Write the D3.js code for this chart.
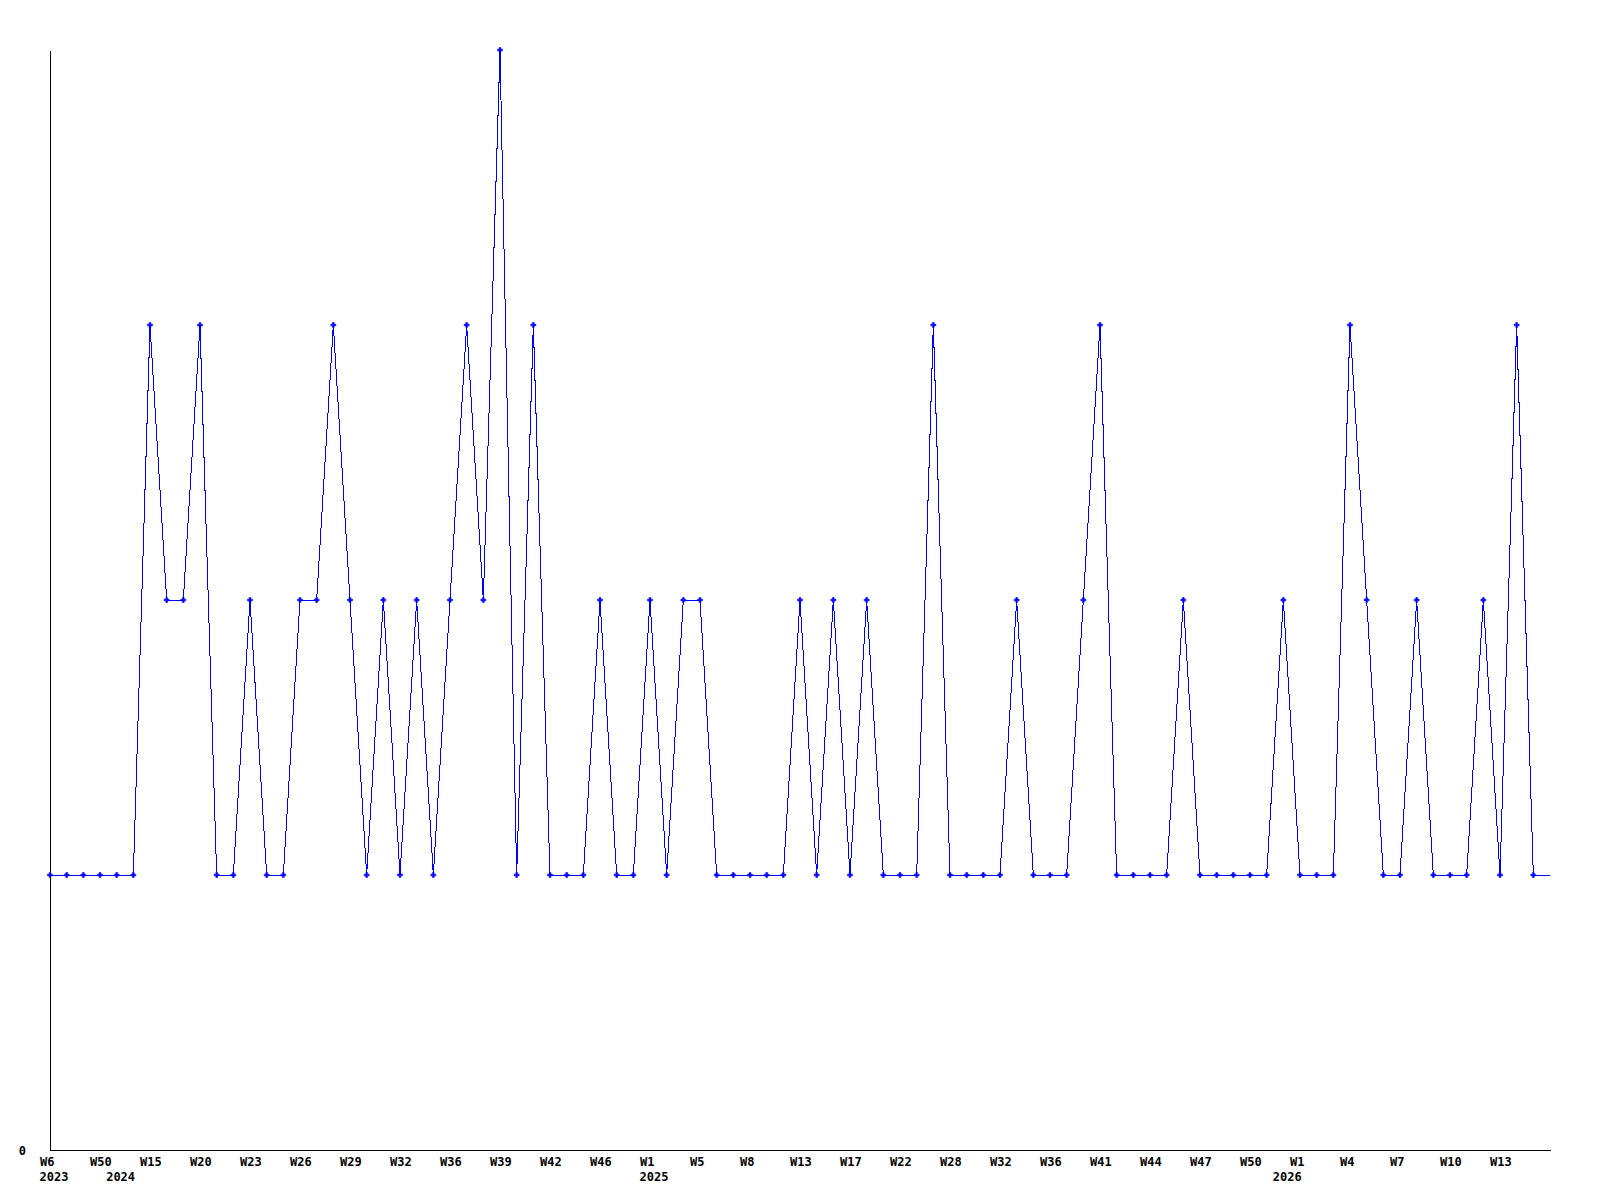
<!DOCTYPE html>
<html>
<head>
<meta charset="utf-8">
<script src="https://cdn.jsdelivr.net/npm/d3@7"></script>
<style>
  html, body { margin: 0; padding: 0; background: #fff; }
  svg { display: block; }
  text { font-family: "DejaVu Sans Mono", "Liberation Mono", monospace; font-weight: bold; font-size: 12px; fill: #000; }
</style>
</head>
<body>
<svg id="chart" width="1600" height="1200"></svg>
<script>
// Weekly values (last entry = current week, drawn as line continuation without marker)
const values = [
  1,1,1,1,1,1,3,2,2,3,
  1,1,2,1,1,2,2,3,2,1,
  2,1,2,1,2,3,2,4,1,3,
  1,1,1,2,1,1,2,1,2,2,
  1,1,1,1,1,2,1,2,1,2,
  1,1,1,3,1,1,1,1,2,1,
  1,1,2,3,1,1,1,1,2,1,
  1,1,1,1,2,1,1,1,3,2,
  1,1,2,1,1,1,2,1,3,1,
  1
];
const tickIndices = d3.range(0, 90, 3);
const tickLabels = ["W6","W50","W15","W20","W23","W26","W29","W32","W36","W39",
                    "W42","W46","W1","W5","W8","W13","W17","W22","W28","W32",
                    "W36","W41","W44","W47","W50","W1","W4","W7","W10","W13"];
const yearLabels = ["2023","2024","2025","2026"];
const yearIndices = [0, 4, 36, 74];
const yTicks = [0];

const svg = d3.select("#chart");
const mLeft = 50, mRight = 1550, mTop = 50, mBottom = 1150;

const x = d3.scaleLinear().domain([0, values.length - 1]).range([mLeft, mRight]);
const y = d3.scaleLinear().domain([0, 4]).range([mBottom, mTop]);

// Axes
const xAxis = d3.axisBottom(x)
  .tickValues(tickIndices)
  .tickFormat((d, i) => tickLabels[i])
  .tickSize(0).tickSizeOuter(0).tickPadding(7);
const gx = svg.append("g").attr("transform", `translate(0,${mBottom})`).call(xAxis);
gx.attr("font-family", null).attr("font-size", null);
gx.select(".domain").attr("stroke", "#000").attr("shape-rendering", "crispEdges");
gx.selectAll(".tick text").attr("text-anchor", "start").attr("dx", -10.5);

const yAxis = d3.axisLeft(y).tickValues(yTicks).tickFormat(d3.format("d"))
  .tickSize(0).tickSizeOuter(0).tickPadding(24);
const gy = svg.append("g").attr("transform", `translate(${mLeft},0)`).call(yAxis);
gy.attr("font-family", null).attr("font-size", null);
gy.select(".domain").attr("stroke", "#000").attr("shape-rendering", "crispEdges");
gy.selectAll(".tick text").attr("dy", "0.35em");

// Year labels
svg.append("g").selectAll("text").data(yearLabels).join("text")
  .attr("x", (d, i) => x(yearIndices[i]) - 10.5)
  .attr("y", mBottom + 35.5 - 5)
  .text(d => d);

// Line
const line = d3.line().x((d, i) => x(i)).y(d => y(d));
svg.append("path").datum(values)
  .attr("d", line)
  .attr("fill", "none")
  .attr("stroke", "#0000ff")
  .attr("stroke-width", 1)
  .attr("shape-rendering", "crispEdges");

// Markers
const sym = d3.symbol().type(d3.symbolCross).size(14);
svg.append("g").selectAll("path").data(values.slice(0, values.length - 1)).join("path")
  .attr("transform", (d, i) => `translate(${x(i)},${y(d)})`)
  .attr("d", sym)
  .attr("fill", "#0000ff")
  .attr("stroke", "#0000ff")
  .attr("stroke-width", 0.6);
</script>
</body>
</html>
